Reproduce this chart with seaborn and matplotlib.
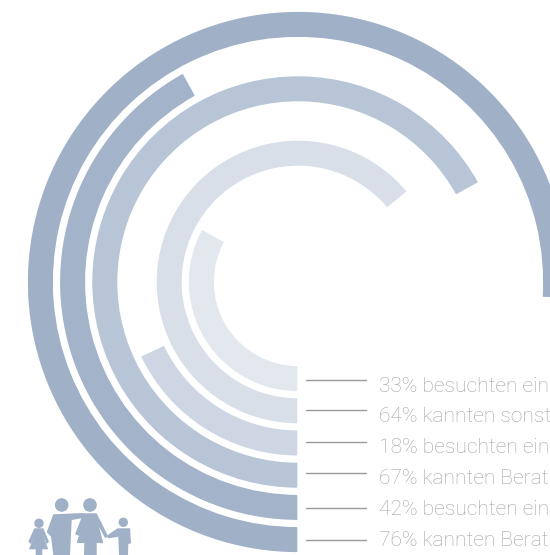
import numpy as np
import pandas as pd
import matplotlib
matplotlib.use('Agg')
import matplotlib.pyplot as plt
from matplotlib.patches import Circle, Polygon
import seaborn as sns

# values, innermost ring first
labels = ['33% besuchten ein', '64% kannten sonst', '18% besuchten ein',
          '67% kannten Berat', '42% besuchten ein', '76% kannten Berat']
percent = [33, 64, 18, 67, 42, 76]
ring = [0, 1, 2, 3, 4, 5]
colors = ['#e3e8ef', '#d9dfe9', '#cdd6e2', '#b8c5d6', '#a3b3ca', '#9fb0c7']

df = pd.DataFrame({'label': labels, 'percent': percent, 'ring': ring})
df['theta'] = df['percent'] / 100 * 2 * np.pi

sns.set_theme(style='white')
plt.rcParams['font.family'] = ['Roboto', 'DejaVu Sans']

fig = plt.figure(figsize=(5.5, 5.55), dpi=100)

# Polar axes centred on the rings
ax = fig.add_axes([23 / 550, -2 / 555, 550 / 550, 550 / 555], projection='polar')
ax.set_theta_zero_location('S')
ax.set_theta_direction(-1)
sns.barplot(data=df, x='theta', y='ring', hue='label', hue_order=labels, palette=colors,
            orient='h', native_scale=True, dodge=False, width=0.82, saturation=1,
            legend=False, ax=ax)
ax.set_rlim(-3, 5.54)
ax.set_thetalim(0, 2 * np.pi)
ax.axis('off')

# Overlay in pixel coordinates for the labels and the icon
ov = fig.add_axes([0, 0, 1, 1])
ov.set_xlim(0, 550)
ov.set_ylim(555, 0)
ov.axis('off')

line_y = [380, 410, 442, 473, 508, 540]
text_y = [392, 422, 453, 484, 515, 546]
for lab, ly, ty in zip(labels, line_y, text_y):
    ov.plot([306, 366], [ly, ly], color='#9a9a9a', lw=1)
    ov.text(379, ty, lab, fontsize=15.1, color='#a3a3a3', va='baseline', ha='left',
            fontweight='light')

# Family icon
icon = '#9fb0c7'
for x, y, r in [(61.7, 505, 6.8), (90, 505, 6.8), (39, 523.3, 4.7), (123.3, 522.3, 4.7)]:
    ov.add_patch(Circle((x, y), r, color=icon, lw=0))
man = [(53.3, 514.3), (83, 513), (83, 518), (71.7, 520), (70, 555), (53.3, 555),
       (51, 536.7), (46.7, 532)]
woman = [(83.3, 513.3), (96.7, 513.3), (108.3, 536.7), (105, 538), (99, 526.7), (103.3, 543.3),
         (96.7, 543), (96.7, 555), (84, 555), (84.3, 543), (76.7, 543), (82.3, 525),
         (79, 535.7), (75, 534.3)]
girl = [(34.3, 528.3), (43.3, 528.3), (49, 541.7), (46.7, 544), (43.3, 536.7), (48.3, 549.3),
        (42.3, 549.3), (42.3, 555), (35.7, 555), (35.7, 549.3), (29, 549.3), (34.3, 536.7),
        (31, 544), (28.3, 541.7)]
boy = [(117.7, 528.3), (130, 528.3), (131, 543.3), (128.3, 544), (128, 555), (119, 555),
       (118.3, 536.7), (108.3, 538.3), (106.7, 535.7)]
for pts in [man, woman, girl, boy]:
    ov.add_patch(Polygon(pts, closed=True, color=icon, lw=0))

fig.savefig('out.png', dpi=100, facecolor='white')
